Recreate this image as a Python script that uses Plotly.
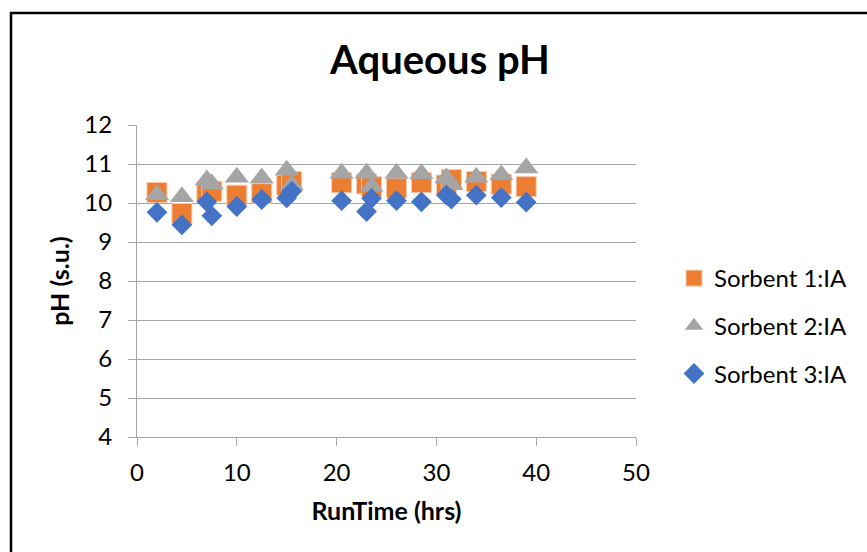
import plotly.graph_objects as go

# RunTime (hrs) and pH (s.u.) values
s1_x = [2, 4.5, 7, 7.5, 10, 12.5, 15, 15.5, 20.5, 23, 23.5, 26, 28.5, 31, 31.5, 34, 36.5, 39]
s1_y = [10.27, 9.73, 10.29, 10.3, 10.2, 10.24, 10.45, 10.55, 10.52, 10.49, 10.42, 10.38,
        10.52, 10.46, 10.6, 10.55, 10.48, 10.42]

s2_x = [2, 4.5, 7, 7.5, 10, 12.5, 15, 15.5, 20.5, 23, 23.5, 26, 28.5, 31, 31.5, 34, 36.5, 39]
s2_y = [10.21, 10.16, 10.59, 10.49, 10.66, 10.64, 10.84, 10.46, 10.76, 10.76, 10.42, 10.76,
        10.75, 10.64, 10.47, 10.66, 10.72, 10.9]

s3_x = [2, 4.5, 7, 7.5, 10, 12.5, 15, 15.5, 20.5, 23, 23.5, 26, 28.5, 31, 31.5, 34, 36.5, 39]
s3_y = [9.76, 9.44, 10.03, 9.67, 9.91, 10.09, 10.13, 10.3, 10.06, 9.78, 10.12, 10.06,
        10.03, 10.2, 10.1, 10.2, 10.14, 10.02]

names = ["Sorbent 1:IA", "Sorbent 2:IA", "Sorbent 3:IA"]
colors = ["#ED7D31", "#A5A5A5", "#4472C4"]

FONT = "Lato, 'Open Sans', sans-serif"

fig = go.Figure()
fig.add_trace(go.Scatter(x=s1_x, y=s1_y, mode="markers", name=names[0], legendgroup="a",
                         marker=dict(symbol="square", size=20, color=colors[0],
                                     line=dict(width=1, color="#F8CBAD"))))
fig.add_trace(go.Scatter(x=s2_x, y=s2_y, mode="markers", name=names[1], legendgroup="b",
                         marker=dict(symbol="triangle-up", size=21, color=colors[1],
                                     line=dict(width=0))))
fig.add_trace(go.Scatter(x=s3_x, y=s3_y, mode="markers", name=names[2], legendgroup="c",
                         marker=dict(symbol="diamond", size=16, color=colors[2],
                                     line=dict(width=0))))

W, H = 867, 552
L, R, T, B = 137, 231, 125, 115
pw, ph = W - L - R, H - T - B

fig.update_layout(
    width=W, height=H,
    margin=dict(l=L, r=R, t=T, b=B),
    paper_bgcolor="white", plot_bgcolor="white",
    font=dict(family=FONT, size=24, color="#000000"),
    title=dict(text="<b>Aqueous pH</b>", font=dict(family=FONT, size=40, color="#000000"),
               x=440 / W, xref="container", xanchor="center",
               y=1 - 60 / H, yref="container", yanchor="middle"),
    xaxis=dict(range=[0, 50], tickvals=[0, 10, 20, 30, 40, 50], showgrid=False,
               showline=True, linecolor="#A6A6A6", linewidth=1,
               ticks="outside", ticklen=8, tickcolor="#A6A6A6", ticklabelstandoff=6,
               zeroline=False, tickfont=dict(size=24),
               title=dict(text="<b>RunTime (hrs)</b>", font=dict(family=FONT, size=25), standoff=17)),
    yaxis=dict(range=[4, 12], tickvals=[4, 5, 6, 7, 8, 9, 10, 11, 12], showgrid=True,
               gridcolor="#A6A6A6", gridwidth=1,
               showline=True, linecolor="#A6A6A6", linewidth=1,
               ticks="outside", ticklen=8, tickcolor="#A6A6A6", ticklabelstandoff=11,
               zeroline=False, tickfont=dict(size=24),
               title=dict(text="<b>pH (s.u.)</b>", font=dict(family=FONT, size=25), standoff=7)),
    legend=dict(x=(674 - L) / pw, xanchor="left", y=1 - (256 - T) / ph, yanchor="top",
                traceorder="grouped", tracegroupgap=13.5,
                font=dict(family=FONT, size=24), bgcolor="rgba(0,0,0,0)"),
    showlegend=True,
)

# outer chart frame
fig.add_shape(type="rect", xref="paper", yref="paper",
              x0=(11 - L) / pw, x1=(W + 5 - L) / pw,
              y0=-(H + 5 - (H - B)) / ph, y1=1 + (T - 13) / ph,
              line=dict(color="#000000", width=2.5), fillcolor="rgba(0,0,0,0)", layer="below")

fig.write_html("out.html")
